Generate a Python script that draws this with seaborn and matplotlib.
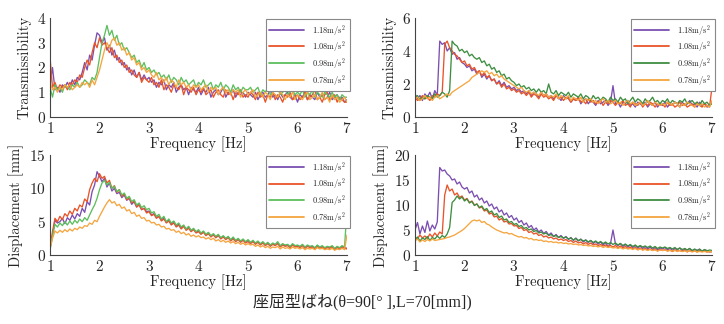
import numpy as np
import pandas as pd
import seaborn as sns
import matplotlib.pyplot as plt

# frequency axis sampling (Hz)
freq = np.round(np.linspace(1.0, 7.0, 121), 2)
accel_labels = ['1.18m/s$^2$', '1.08m/s$^2$', '0.98m/s$^2$', '0.78m/s$^2$']

# top-left: transmissibility
t1_118 = [1.3, 2.0, 1.1, 1.2, 1.0, 1.3, 1.2, 1.4, 1.2, 1.5, 1.3, 1.6, 1.5, 1.8, 2.2, 1.9, 2.5, 2.3, 2.9, 3.4,
          3.3, 3.0, 3.2, 2.7, 2.9, 2.5, 2.7, 2.3, 2.4, 2.1, 2.2, 1.9, 2.0, 1.7, 1.9, 1.6, 1.8, 1.5, 1.7, 1.5,
          1.6, 1.4, 1.5, 1.2, 1.4, 1.3, 1.5, 1.1, 1.3, 1.2, 1.4, 1.0, 1.2, 1.3, 1.1, 1.2, 0.9, 1.2, 1.1, 1.0,
          1.2, 0.9, 1.1, 1.0, 1.2, 0.8, 1.0, 1.1, 0.9, 1.0, 1.2, 0.8, 1.0, 0.9, 1.1, 0.8, 1.0, 0.9, 1.0, 0.8,
          1.0, 0.9, 0.8, 1.0, 0.7, 0.9, 1.0, 0.8, 0.9, 1.1, 0.8, 0.9, 0.7, 1.0, 0.8, 0.9, 1.0, 0.8, 0.7, 0.9,
          0.6, 0.9, 0.8, 1.0, 0.7, 0.9, 0.8, 0.7, 1.0, 0.8, 0.9, 0.7, 0.8, 1.0, 0.7, 0.8, 0.9, 0.7, 0.8, 0.6, 0.7]
t1_108 = [2.4, 1.2, 1.4, 1.1, 1.3, 1.2, 1.3, 1.1, 1.4, 1.3, 1.5, 1.4, 1.7, 1.6, 2.0, 2.3, 2.1, 2.6, 3.0, 2.8,
          3.2, 2.9, 3.0, 2.8, 2.6, 2.8, 2.4, 2.5, 2.2, 2.3, 2.0, 2.1, 1.8, 1.9, 1.7, 1.6, 1.8, 1.4, 1.6, 1.5,
          1.4, 1.6, 1.3, 1.4, 1.2, 1.5, 1.1, 1.3, 1.2, 1.0, 1.3, 1.2, 1.1, 1.3, 0.9, 1.2, 1.1, 1.0, 1.2, 0.9,
          1.1, 1.0, 1.2, 0.9, 1.0, 1.1, 0.8, 1.0, 1.1, 0.9, 0.8, 1.1, 0.9, 1.0, 0.7, 1.0, 0.9, 1.1, 0.8, 0.9,
          0.8, 1.0, 0.9, 0.7, 1.0, 0.8, 0.9, 0.6, 0.9, 0.8, 1.0, 0.7, 0.9, 0.8, 0.6, 0.9, 0.8, 1.0, 0.7, 0.8,
          0.9, 0.7, 0.8, 1.0, 0.7, 0.8, 0.9, 1.1, 0.7, 0.8, 0.6, 0.9, 1.0, 0.7, 0.8, 0.9, 0.6, 0.8, 0.7, 0.6, 0.6]
t1_098 = [1.2, 0.8, 1.3, 1.1, 1.2, 1.0, 1.3, 1.2, 1.1, 1.3, 1.2, 1.4, 1.2, 1.3, 1.5, 1.4, 1.3, 1.6, 1.5, 1.8,
          2.4, 3.0, 3.3, 3.7, 3.3, 3.5, 3.1, 3.3, 2.9, 3.0, 2.7, 2.8, 2.6, 2.4, 2.5, 2.2, 2.3, 2.0, 2.2, 1.9,
          2.0, 1.8, 1.9, 1.7, 1.8, 1.6, 1.7, 1.5, 1.7, 1.4, 1.6, 1.5, 1.3, 1.6, 1.4, 1.5, 1.3, 1.4, 1.5, 1.2,
          1.4, 1.3, 1.5, 1.2, 1.3, 1.4, 1.1, 1.3, 1.2, 1.4, 1.1, 1.3, 1.2, 1.0, 1.3, 1.1, 1.2, 1.0, 1.2, 1.1,
          1.1, 1.2, 1.0, 1.1, 1.2, 0.9, 1.1, 1.0, 1.2, 0.9, 1.0, 1.1, 1.2, 0.9, 1.0, 1.1, 0.9, 1.0, 1.1, 0.9,
          1.0, 0.9, 1.1, 0.8, 1.0, 0.9, 1.1, 0.8, 1.0, 0.9, 0.8, 1.0, 0.9, 0.8, 1.0, 0.8, 0.9, 0.7, 0.9, 0.8, 0.8]
t1_078 = [1.4, 1.1, 1.2, 1.0, 1.2, 1.1, 1.3, 1.2, 1.3, 1.1, 1.2, 1.3, 1.2, 1.4, 1.3, 1.4, 1.2, 1.5, 1.3, 1.6,
          1.9, 2.3, 2.7, 3.0, 2.8, 3.1, 3.2, 2.9, 3.0, 2.7, 2.8, 2.5, 2.6, 2.3, 2.4, 2.1, 2.2, 1.9, 2.0, 1.8,
          1.9, 1.7, 1.6, 1.8, 1.5, 1.6, 1.4, 1.6, 1.3, 1.5, 1.4, 1.2, 1.5, 1.3, 1.4, 1.2, 1.3, 1.1, 1.3, 1.2,
          1.3, 1.1, 1.2, 1.3, 1.0, 1.2, 1.1, 1.2, 0.9, 1.1, 1.2, 1.0, 1.1, 0.9, 1.1, 1.0, 1.1, 0.8, 1.0, 1.1,
          0.9, 1.0, 1.1, 0.8, 0.9, 1.0, 0.8, 1.0, 0.9, 0.7, 1.0, 0.9, 0.8, 1.0, 0.9, 0.7, 0.9, 0.8, 1.0, 0.7,
          0.9, 0.8, 0.7, 0.9, 1.0, 0.7, 0.8, 0.9, 0.7, 0.8, 1.0, 0.7, 0.8, 0.6, 0.9, 0.7, 0.8, 0.6, 0.7, 0.8, 0.6]

# top-right: transmissibility
t2_118 = [1.4, 1.1, 1.3, 1.0, 1.4, 1.2, 1.5, 1.1, 1.6, 1.3, 4.6, 4.4, 4.5, 4.0, 4.2, 3.8, 3.9, 3.5, 3.6, 3.3,
          3.2, 3.0, 3.1, 2.8, 2.9, 2.6, 2.8, 2.4, 2.6, 2.3, 2.5, 2.2, 2.3, 2.0, 2.2, 1.9, 2.1, 1.8, 1.9, 1.7,
          1.8, 1.6, 1.7, 1.5, 1.6, 1.4, 1.6, 1.3, 1.5, 1.4, 1.2, 1.5, 1.3, 1.4, 1.2, 1.3, 1.1, 1.3, 1.2, 1.0,
          1.3, 1.1, 1.2, 0.9, 1.1, 1.0, 1.2, 0.8, 1.0, 1.1, 0.8, 1.0, 0.9, 0.7, 1.0, 0.8, 0.9, 1.0, 0.7, 0.9,
          1.9, 0.8, 0.9, 0.6, 0.9, 0.8, 1.0, 0.7, 0.8, 0.6, 0.9, 0.8, 0.7, 0.9, 0.6, 0.8, 0.7, 0.9, 0.6, 0.8,
          0.7, 0.9, 0.6, 0.8, 0.7, 0.9, 0.8, 0.6, 0.9, 0.7, 0.8, 1.0, 0.7, 0.8, 0.6, 0.9, 0.7, 0.8, 0.6, 0.7, 0.9]
t2_108 = [1.2, 1.0, 1.1, 1.3, 1.1, 1.2, 1.0, 1.3, 1.2, 1.4, 1.3, 1.5, 4.4, 4.6, 4.2, 4.0, 3.8, 3.7, 3.5, 3.3,
          3.4, 3.1, 3.2, 2.9, 3.0, 2.7, 2.8, 2.5, 2.7, 2.4, 2.5, 2.2, 2.3, 2.0, 2.1, 1.8, 2.0, 1.7, 1.8, 1.6,
          1.7, 1.5, 1.6, 1.4, 1.5, 1.3, 1.5, 1.2, 1.4, 1.3, 1.1, 1.4, 1.2, 1.3, 1.1, 1.2, 1.0, 1.3, 1.1, 1.2,
          1.0, 1.2, 1.1, 0.9, 1.1, 1.0, 1.2, 0.9, 1.0, 0.8, 1.1, 0.9, 1.0, 0.8, 0.9, 1.0, 0.7, 0.9, 0.8, 1.0,
          0.9, 0.7, 0.9, 0.8, 1.0, 0.7, 0.8, 0.6, 0.9, 0.8, 0.7, 0.9, 0.6, 0.8, 0.7, 0.9, 0.8, 0.6, 0.8, 0.7,
          0.8, 0.6, 0.9, 0.7, 0.8, 0.6, 0.7, 0.9, 0.7, 0.8, 0.6, 0.7, 0.8, 0.6, 0.9, 0.7, 0.6, 0.8, 0.7, 0.6, 1.8]
t2_098 = [1.2, 1.3, 1.0, 1.2, 1.1, 1.3, 1.2, 1.1, 1.4, 1.2, 1.3, 1.5, 1.4, 1.2, 1.6, 4.6, 4.4, 4.3, 4.0, 4.1,
          3.9, 4.0, 3.7, 3.8, 3.6, 3.5, 3.6, 3.3, 3.4, 3.1, 3.2, 2.9, 3.0, 2.7, 2.8, 2.5, 2.6, 2.3, 2.4, 2.2,
          2.1, 1.9, 2.0, 1.8, 1.9, 1.7, 1.8, 1.6, 1.7, 1.5, 1.7, 1.5, 1.6, 1.4, 2.0, 1.5, 1.4, 1.6, 1.3, 1.5,
          1.4, 1.3, 1.5, 1.2, 1.4, 1.3, 1.2, 1.4, 1.1, 1.3, 1.2, 1.0, 1.3, 1.1, 1.2, 1.0, 1.2, 1.1, 0.9, 1.2,
          1.0, 1.1, 0.9, 1.2, 1.0, 1.1, 0.8, 1.0, 1.2, 0.9, 1.1, 1.0, 0.8, 1.1, 0.9, 1.0, 1.2, 0.9, 1.0, 0.8,
          1.0, 0.9, 1.1, 0.8, 1.0, 0.9, 0.8, 1.0, 0.9, 1.1, 0.8, 0.9, 1.0, 0.8, 0.9, 0.7, 1.0, 0.8, 0.9, 0.7, 0.8]
t2_078 = [1.1, 1.2, 1.0, 1.1, 1.3, 1.1, 1.2, 1.0, 1.2, 1.3, 1.1, 1.2, 1.3, 1.4, 1.3, 1.5, 1.6, 1.7, 1.8, 1.9,
          2.0, 2.1, 2.2, 2.4, 2.5, 2.6, 2.7, 2.8, 2.7, 2.8, 2.6, 2.7, 2.5, 2.6, 2.4, 2.5, 2.3, 2.2, 2.1, 2.0,
          1.9, 1.8, 1.7, 1.8, 1.6, 1.5, 1.6, 1.4, 1.5, 1.4, 1.3, 1.5, 1.3, 1.4, 1.2, 1.3, 1.2, 1.4, 1.1, 1.3,
          1.2, 1.1, 1.3, 1.0, 1.2, 1.1, 1.0, 1.2, 0.9, 1.1, 1.0, 1.1, 0.9, 1.0, 0.8, 1.0, 1.1, 0.9, 1.0, 0.8,
          0.9, 1.0, 0.8, 0.9, 0.7, 0.9, 1.0, 0.8, 0.9, 0.7, 0.8, 0.9, 0.7, 0.8, 1.0, 0.8, 0.7, 0.9, 0.8, 0.7,
          0.8, 0.7, 0.9, 0.8, 0.7, 0.9, 0.8, 0.6, 0.8, 0.7, 0.9, 0.8, 0.7, 0.6, 0.8, 0.7, 0.8, 0.6, 0.7, 0.6, 1.0]

# bottom-left: displacement [mm]
d1_118 = [1.0, 3.0, 5.2, 4.8, 5.0, 5.5, 4.7, 5.6, 5.2, 6.0, 5.4, 6.2, 5.8, 7.0, 6.4, 8.0, 7.5, 9.5, 10.5, 12.5,
          11.8, 11.0, 11.5, 10.2, 10.8, 9.6, 10.0, 9.2, 9.4, 8.6, 9.0, 8.2, 8.5, 7.6, 8.0, 7.2, 7.6, 6.8, 7.0, 6.5,
          6.6, 6.0, 6.2, 5.6, 5.8, 5.2, 5.6, 4.9, 5.2, 4.6, 5.0, 4.3, 4.6, 4.0, 4.4, 3.8, 4.2, 3.6, 3.9, 3.4,
          3.6, 3.2, 3.5, 3.0, 3.3, 2.8, 3.1, 2.6, 3.0, 2.5, 2.8, 2.4, 2.7, 2.2, 2.6, 2.1, 2.4, 2.0, 2.3, 1.9,
          2.2, 1.8, 2.1, 1.7, 2.0, 1.6, 1.9, 1.5, 1.8, 1.4, 1.7, 1.5, 1.8, 1.3, 1.6, 1.4, 1.5, 1.2, 1.6, 1.3,
          1.4, 1.2, 1.5, 1.1, 1.4, 1.2, 1.3, 1.0, 1.4, 1.1, 1.3, 1.0, 1.2, 1.1, 1.3, 0.9, 1.2, 1.0, 1.3, 1.1, 1.0]
d1_108 = [1.2, 3.5, 5.5, 5.0, 5.8, 5.3, 6.2, 5.8, 6.6, 6.1, 7.0, 6.6, 7.5, 7.2, 8.4, 8.0, 9.8, 10.8, 11.5, 11.0,
          12.2, 11.5, 11.8, 10.8, 11.2, 10.0, 10.4, 9.4, 9.8, 8.8, 9.2, 8.3, 8.6, 7.8, 8.1, 7.2, 7.5, 6.8, 7.0, 6.3,
          6.5, 5.9, 6.1, 5.5, 5.8, 5.1, 5.4, 4.8, 5.1, 4.5, 4.8, 4.2, 4.5, 3.9, 4.3, 3.7, 4.0, 3.5, 3.8, 3.3,
          3.5, 3.1, 3.4, 2.9, 3.2, 2.7, 3.0, 2.6, 2.9, 2.4, 2.7, 2.3, 2.6, 2.1, 2.4, 2.0, 2.3, 1.9, 2.2, 1.8,
          2.0, 1.7, 2.0, 1.6, 1.9, 1.5, 1.8, 1.4, 1.7, 1.3, 1.6, 1.4, 1.7, 1.2, 1.5, 1.3, 1.4, 1.1, 1.5, 1.2,
          1.3, 1.1, 1.4, 1.0, 1.3, 1.1, 1.2, 0.9, 1.3, 1.0, 1.2, 0.9, 1.1, 1.0, 1.2, 0.8, 1.1, 0.9, 1.2, 1.0, 0.9]
d1_098 = [0.8, 2.8, 4.6, 4.2, 4.8, 4.4, 5.0, 4.5, 5.1, 4.6, 5.2, 4.8, 5.4, 5.0, 5.6, 5.2, 6.0, 6.8, 7.5, 8.5,
          9.8, 10.8, 11.2, 10.5, 10.9, 10.0, 10.3, 9.5, 9.8, 9.0, 9.3, 8.5, 8.8, 8.0, 8.3, 7.5, 7.8, 7.1, 7.4, 6.8,
          7.0, 6.3, 6.5, 5.8, 6.1, 5.4, 5.8, 5.0, 5.4, 4.8, 5.1, 4.5, 4.8, 4.2, 4.5, 3.9, 4.3, 3.7, 4.0, 3.5,
          3.8, 3.3, 3.6, 3.1, 3.4, 2.9, 3.2, 2.8, 3.1, 2.6, 2.9, 2.5, 2.8, 2.3, 2.7, 2.2, 2.5, 2.1, 2.4, 2.0,
          2.3, 1.9, 2.2, 1.8, 2.1, 1.7, 2.0, 1.6, 1.9, 1.5, 1.8, 1.6, 2.0, 1.4, 1.7, 1.5, 1.6, 1.3, 1.7, 1.4,
          1.5, 1.3, 1.6, 1.2, 1.5, 1.3, 1.4, 1.1, 1.5, 1.2, 1.4, 1.1, 1.3, 1.2, 1.4, 1.0, 1.3, 1.1, 1.4, 1.2, 7.0]
d1_078 = [0.9, 2.5, 3.6, 3.3, 3.7, 3.4, 3.8, 3.5, 3.9, 3.6, 4.0, 3.8, 4.2, 4.0, 4.4, 4.3, 4.8, 4.6, 5.2, 5.0,
          5.8, 6.5, 7.2, 7.8, 8.3, 7.8, 8.0, 7.4, 7.6, 7.0, 7.2, 6.6, 6.8, 6.2, 6.4, 5.8, 6.0, 5.5, 5.6, 5.1,
          5.2, 4.8, 4.9, 4.5, 4.6, 4.2, 4.3, 3.9, 4.0, 3.7, 3.8, 3.4, 3.6, 3.2, 3.4, 3.0, 3.2, 2.8, 3.0, 2.7,
          2.9, 2.6, 2.7, 2.4, 2.6, 2.3, 2.5, 2.1, 2.3, 2.0, 2.2, 1.9, 2.1, 1.8, 2.0, 1.7, 1.9, 1.6, 1.8, 1.5,
          1.7, 1.5, 1.6, 1.3, 1.5, 1.2, 1.4, 1.1, 1.3, 1.0, 1.2, 1.1, 1.3, 0.9, 1.2, 1.0, 1.1, 0.9, 1.2, 1.0,
          1.1, 0.9, 1.1, 0.8, 1.0, 0.9, 1.0, 0.8, 1.1, 0.9, 1.0, 0.8, 0.9, 0.8, 1.0, 0.7, 0.9, 0.8, 1.0, 0.8, 3.0]

# bottom-right: displacement [mm]
d2_118 = [5.0, 6.5, 4.2, 5.8, 4.5, 6.8, 4.8, 6.0, 5.2, 6.6, 17.5, 16.8, 17.0, 16.2, 15.8, 15.0, 15.2, 14.2, 14.6, 13.6,
          13.2, 13.5, 12.4, 12.8, 11.6, 12.0, 11.0, 11.4, 10.4, 10.8, 9.8, 10.2, 9.2, 9.6, 8.6, 9.0, 8.0, 8.4, 7.5, 7.9,
          7.0, 7.4, 6.5, 6.9, 6.0, 6.4, 5.5, 5.9, 5.0, 5.4, 4.6, 5.0, 4.3, 4.7, 4.0, 4.4, 3.7, 4.1, 3.5, 3.9,
          3.3, 3.7, 3.1, 3.5, 2.9, 3.4, 2.8, 3.2, 2.6, 3.0, 2.5, 2.9, 2.3, 2.7, 2.2, 2.6, 2.0, 2.5, 1.6, 2.3,
          5.0, 2.2, 1.9, 2.3, 1.7, 2.1, 1.6, 2.0, 1.5, 1.9, 1.4, 1.8, 1.3, 1.7, 1.2, 1.6, 1.1, 1.5, 1.0, 1.4,
          1.2, 1.5, 1.0, 1.4, 0.9, 1.3, 1.1, 1.4, 0.8, 1.2, 1.0, 1.3, 0.8, 1.1, 0.9, 1.2, 0.7, 1.0, 0.9, 0.6, 0.8]
d2_108 = [3.5, 3.2, 4.0, 3.4, 3.8, 3.3, 4.2, 3.6, 4.4, 3.8, 4.6, 4.2, 12.0, 14.0, 12.8, 13.2, 12.0, 12.4, 11.5, 11.8,
          11.0, 11.3, 10.5, 10.8, 10.0, 10.2, 9.4, 9.6, 8.8, 9.0, 8.2, 8.4, 7.6, 7.8, 7.0, 7.3, 6.6, 6.8, 6.2, 6.3,
          5.8, 5.9, 5.3, 5.5, 4.9, 5.1, 4.5, 4.7, 4.2, 4.4, 3.9, 4.1, 3.6, 3.8, 3.4, 3.6, 3.2, 3.4, 3.0, 3.2,
          2.9, 3.1, 2.7, 2.9, 2.5, 2.8, 2.4, 2.6, 2.2, 2.5, 2.1, 2.4, 2.0, 2.2, 1.9, 2.1, 1.8, 2.0, 1.7, 1.9,
          1.6, 1.9, 1.5, 1.8, 1.4, 1.7, 1.3, 1.6, 1.2, 1.5, 1.1, 1.4, 1.0, 1.3, 1.0, 1.2, 0.9, 1.2, 0.8, 1.1,
          0.9, 1.1, 0.8, 1.0, 0.7, 1.0, 0.8, 0.9, 0.7, 1.0, 0.6, 0.9, 0.7, 0.8, 0.6, 0.9, 0.7, 0.8, 0.6, 0.7, 0.6]
d2_098 = [3.0, 3.6, 2.8, 3.4, 3.1, 3.7, 2.9, 3.5, 3.2, 3.8, 3.3, 3.9, 3.5, 4.2, 5.5, 10.5, 11.0, 11.8, 11.2, 11.6,
          10.8, 11.2, 10.4, 10.7, 9.9, 10.2, 9.5, 9.8, 9.0, 9.3, 8.5, 8.8, 8.0, 8.3, 7.5, 7.8, 7.0, 7.2, 6.5, 6.7,
          6.1, 6.3, 5.7, 5.9, 5.3, 5.5, 5.0, 5.2, 4.7, 4.9, 4.4, 4.6, 4.2, 4.4, 3.9, 4.1, 3.7, 3.9, 3.5, 3.7,
          3.4, 3.6, 3.2, 3.4, 3.0, 3.3, 2.9, 3.1, 2.8, 3.0, 2.6, 2.9, 2.5, 2.8, 2.4, 2.7, 2.3, 2.6, 2.2, 2.5,
          2.1, 2.4, 2.0, 2.3, 1.9, 2.2, 1.8, 2.1, 1.7, 2.0, 1.6, 1.9, 1.6, 1.8, 1.5, 1.8, 1.4, 1.7, 1.3, 1.6,
          1.4, 1.6, 1.3, 1.5, 1.2, 1.5, 1.1, 1.4, 1.1, 1.3, 1.0, 1.3, 0.9, 1.2, 0.9, 1.1, 0.8, 1.1, 0.8, 1.0, 0.9]
d2_078 = [2.8, 3.2, 2.6, 3.0, 2.7, 3.1, 2.8, 3.2, 2.9, 3.0, 3.1, 3.2, 3.3, 3.5, 3.6, 3.8, 4.0, 4.3, 4.6, 4.9,
          5.3, 5.8, 6.3, 6.8, 7.0, 6.8, 7.0, 6.5, 6.7, 6.2, 6.0, 5.6, 5.3, 5.0, 4.8, 4.6, 4.4, 4.5, 4.2, 4.3,
          4.0, 3.8, 3.6, 3.7, 3.4, 3.5, 3.2, 3.3, 3.0, 3.1, 2.9, 3.0, 2.7, 2.8, 2.6, 2.7, 2.5, 2.6, 2.4, 2.5,
          2.3, 2.4, 2.2, 2.3, 2.1, 2.2, 2.0, 2.1, 1.9, 2.0, 1.8, 1.9, 1.7, 1.8, 1.6, 1.8, 1.5, 1.7, 1.5, 1.6,
          1.4, 1.5, 1.3, 1.5, 1.2, 1.4, 1.2, 1.3, 1.1, 1.3, 1.0, 1.2, 1.0, 1.1, 0.9, 1.1, 0.9, 1.0, 0.8, 1.0,
          0.9, 1.0, 0.8, 0.9, 0.8, 0.9, 0.7, 0.9, 0.7, 0.8, 0.7, 0.8, 0.6, 0.8, 0.6, 0.7, 0.6, 0.7, 0.6, 0.7, 0.7]

sns.set_style("white")
plt.rcParams['font.family'] = 'serif'
plt.rcParams['font.serif'] = ['cmr10', 'DejaVu Serif']
plt.rcParams['mathtext.fontset'] = 'cm'
plt.rcParams['axes.formatter.use_mathtext'] = True


def to_frame(series):
    rows = []
    for lab, vals in zip(accel_labels, series):
        rows.append(pd.DataFrame({'freq': freq, 'val': vals, 'accel': lab}))
    return pd.concat(rows, ignore_index=True)


pal_left = ['#7B4FB0', '#E8542A', '#5DBE5E', '#F5A540']
pal_right = ['#7B4FB0', '#E8542A', '#3E8E41', '#F5A540']

panels = [
    ([0.0691, 0.6389, 0.4102, 0.3056], [t1_118, t1_108, t1_098, t1_078], 'Transmissibility', 4, [0, 1, 2, 3, 4], pal_left),
    ([0.5732, 0.6389, 0.4102, 0.3056], [t2_118, t2_108, t2_098, t2_078], 'Transmissibility', 6, [0, 2, 4, 6], pal_right),
    ([0.0691, 0.2130, 0.4102, 0.3086], [d1_118, d1_108, d1_098, d1_078], 'Displacement [mm]', 15, [0, 5, 10, 15], pal_left),
    ([0.5732, 0.2130, 0.4102, 0.3086], [d2_118, d2_108, d2_098, d2_078], 'Displacement [mm]', 20, [0, 5, 10, 15, 20], pal_right),
]

fig = plt.figure(figsize=(7.24, 3.24), dpi=100)
for rect, series, ylab, ymax, yticks, pal in panels:
    ax = fig.add_axes(rect)
    df = to_frame(series)
    sns.lineplot(data=df, x='freq', y='val', hue='accel', hue_order=accel_labels,
                 palette=pal, ax=ax, linewidth=0.95, estimator=None)
    ax.set_xlim(1, 7)
    ax.set_ylim(0, ymax)
    ax.set_xticks([1, 2, 3, 4, 5, 6, 7])
    ax.set_yticks(yticks)
    ax.set_xlabel('Frequency [Hz]', fontsize=10.5, labelpad=0)
    ax.set_ylabel(ylab, fontsize=10.5, labelpad=4)
    ax.tick_params(direction='in', length=3, width=0.7, labelsize=11, pad=3)
    for s in ['top', 'right']:
        ax.spines[s].set_visible(False)
    for s in ['left', 'bottom']:
        ax.spines[s].set_color('#444444')
        ax.spines[s].set_linewidth(0.8)
    handles, labels = ax.get_legend_handles_labels()
    leg = ax.legend(handles, labels, loc='upper right', bbox_to_anchor=(1.012, 1.0),
                    fontsize=6, frameon=True, fancybox=False, edgecolor='#888888',
                    framealpha=1, handlelength=4.2, handletextpad=0.9,
                    borderaxespad=0.1, labelspacing=0.2, borderpad=0.45)
    leg.get_frame().set_linewidth(0.8)
    for h, c in zip(leg.get_lines(), pal):
        h.set_color(c)
        h.set_linewidth(1.3)

fig.text(0.5, 0.068, '座屈型ばね(θ=90[° ],L=70[mm])', ha='center', va='center',
         fontsize=11.5, family=['Liberation Serif', 'Noto Sans CJK JP'])

fig.savefig('out.png', dpi=100)
